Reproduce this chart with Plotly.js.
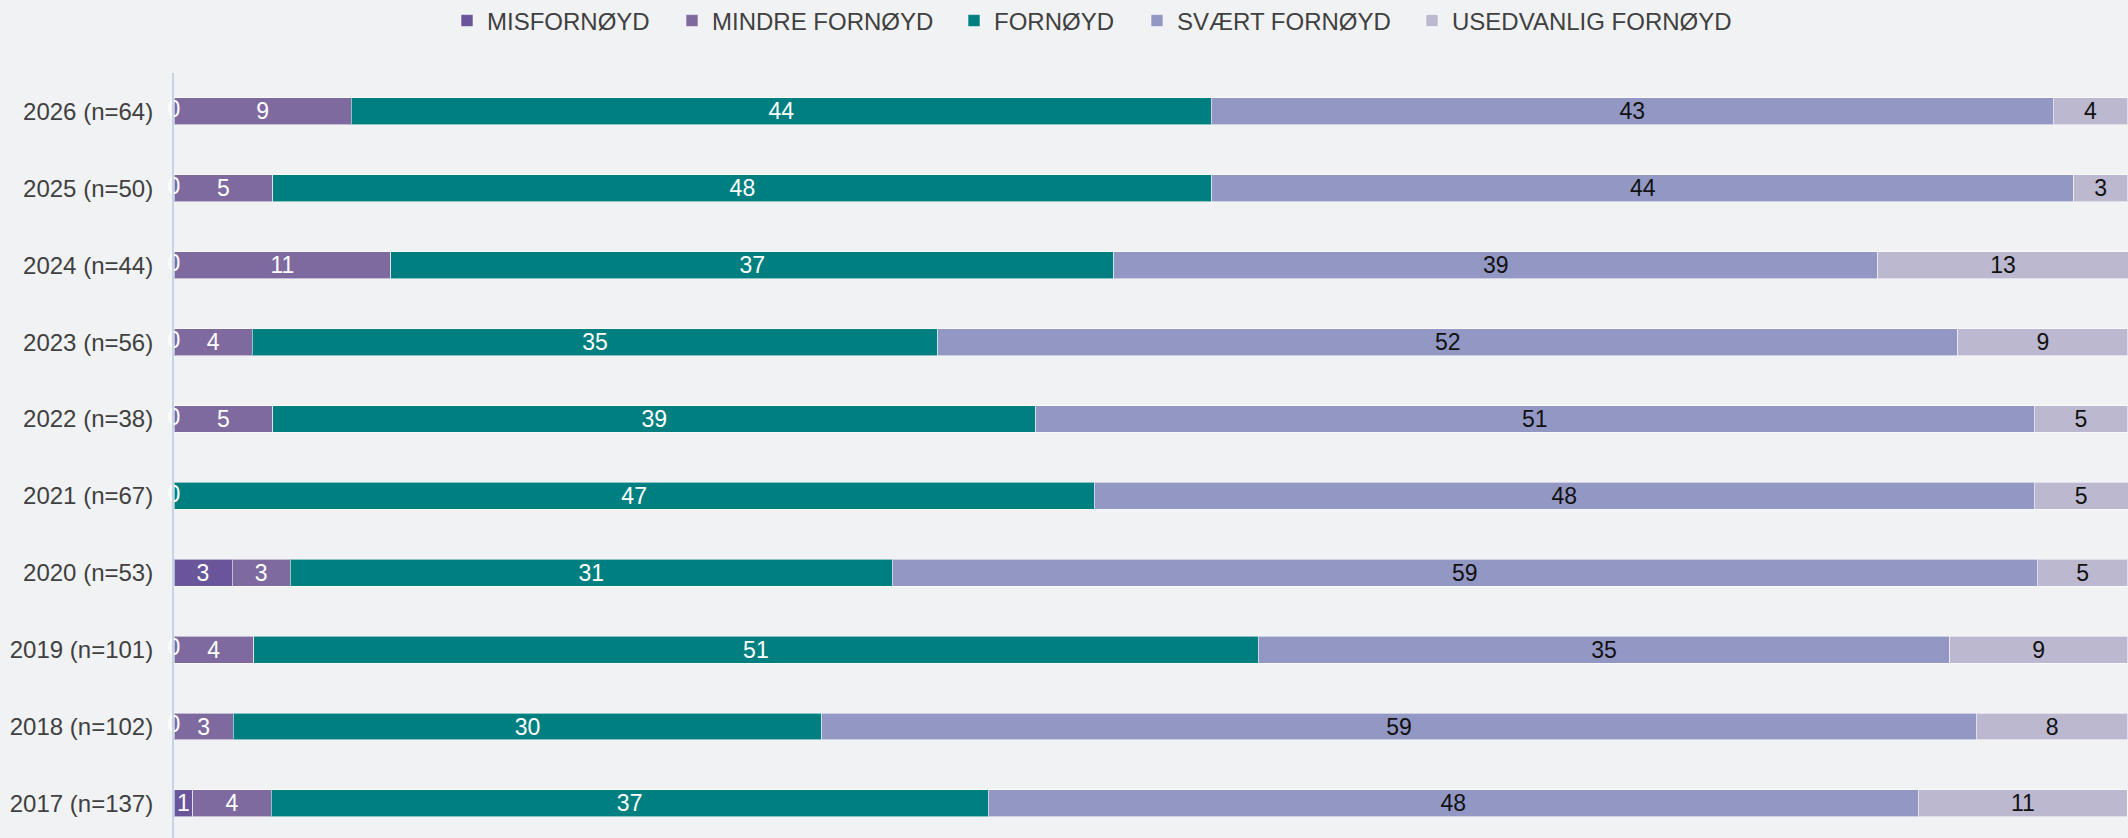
<!DOCTYPE html>
<html>
<head>
<meta charset="utf-8">
<script src="https://cdn.plot.ly/plotly-3.0.1.min.js"></script>
<style>
  html, body { margin: 0; padding: 0; background: #F1F2F4; overflow: hidden; }
  #chart { width: 2128px; height: 838px; }
</style>
</head>
<body>
<div id="chart"></div>
<script>
// Categories, top to bottom
const categories = ["2026 (n=64)", "2025 (n=50)", "2024 (n=44)", "2023 (n=56)", "2022 (n=38)",
                    "2021 (n=67)", "2020 (n=53)", "2019 (n=101)", "2018 (n=102)", "2017 (n=137)"];

// Series values (percent)
const misfornoyd        = [0,    0,     0,    0,     0,     0,    2.97, 0,    0,    0.97];
const mindreFornoyd     = [9.08, 5.06,  11.1, 4.01,  5.06,  0,    2.99, 4.08, 3.04, 4.0];
const fornoyd           = [44.0, 48.06, 37.0, 35.08, 39.03, 47.1, 30.8, 51.4, 30.1, 36.7];
const svaertFornoyd     = [43.1, 44.1,  39.1, 52.2,  51.1,  48.1, 58.6, 35.4, 59.1, 47.6];
const usedvanligFornoyd = [3.8,  2.77,  12.8, 8.70,  4.8,   4.8,  4.63, 9.1,  7.75, 10.7];

const seriesNames = ["MISFORNØYD", "MINDRE FORNØYD", "FORNØYD", "SVÆRT FORNØYD", "USEDVANLIG FORNØYD"];

const seriesData = [misfornoyd, mindreFornoyd, fornoyd, svaertFornoyd, usedvanligFornoyd];
const colors = ["#68559A", "#7E6A9F", "#007F80", "#9297C3", "#BBB8CF"];
const textColors = ["#FFFFFF", "#FFFFFF", "#FFFFFF", "#111111", "#111111"];

const FONT = "Liberation Sans, Arial, sans-serif";
const legendIds = ["legend", "legend2", "legend3", "legend4", "legend5"];
const legendLeftPx = [447, 672, 954, 1137, 1412];

const traces = seriesData.map((vals, i) => ({
  type: "bar",
  orientation: "h",
  name: seriesNames[i],
  legend: legendIds[i],
  y: categories,
  x: vals,
  text: vals.map(v => v > 0 ? String(Math.round(v)) : ""),
  textposition: "inside",
  insidetextanchor: "middle",
  textangle: 0,
  constraintext: "none",
  cliponaxis: false,
  insidetextfont: { family: FONT, size: 23, color: textColors[i] },
  marker: { color: colors[i], line: { color: "rgba(255,255,255,0.55)", width: 1 } },
  hoverinfo: "x+name"
}));

// Zero labels at the base of the first series where it is zero
const zeroRows = categories.filter((c, k) => misfornoyd[k] === 0);
const zeroVals = misfornoyd.filter(v => v === 0);
traces.push({
  type: "scatter",
  mode: "text",
  y: zeroRows,
  x: zeroVals,
  text: zeroVals.map(v => String(v)),
  textposition: "middle center",
  textfont: { family: FONT, size: 23, color: "#FFFFFF" },
  cliponaxis: false,
  showlegend: false,
  hoverinfo: "skip"
});

const W = 2128, H = 838;

const layout = {
  width: W,
  height: H,
  paper_bgcolor: "#F1F2F4",
  plot_bgcolor: "#F1F2F4",
  barmode: "stack",
  bargap: 0.65,
  margin: { l: 174, r: 0, t: 73, b: 0, pad: 0 },
  font: { family: FONT, size: 24, color: "#404040" },
  xaxis: {
    range: [0, 100],
    showgrid: false,
    zeroline: false,
    showticklabels: false,
    ticks: "",
    fixedrange: true
  },
  yaxis: {
    type: "category",
    categoryorder: "array",
    categoryarray: categories,
    range: [9.45, -0.5],
    showgrid: false,
    zeroline: false,
    showline: true,
    linecolor: "#C5D5E8",
    linewidth: 2,
    ticks: "",
    ticklabelstandoff: 14,
    tickfont: { family: FONT, size: 24, color: "#404040" },
    fixedrange: true
  },
  showlegend: true
};

legendIds.forEach((id, i) => {
  layout[id] = {
    orientation: "h",
    xref: "container",
    yref: "container",
    x: legendLeftPx[i] / W,
    xanchor: "left",
    y: 1 - 21 / H,
    yanchor: "middle",
    font: { family: FONT, size: 24, color: "#404040" },
    bgcolor: "rgba(0,0,0,0)",
    borderwidth: 0,
    itemwidth: 30
  };
});

Plotly.newPlot("chart", traces, layout, { displayModeBar: false, staticPlot: true });
</script>
</body>
</html>
